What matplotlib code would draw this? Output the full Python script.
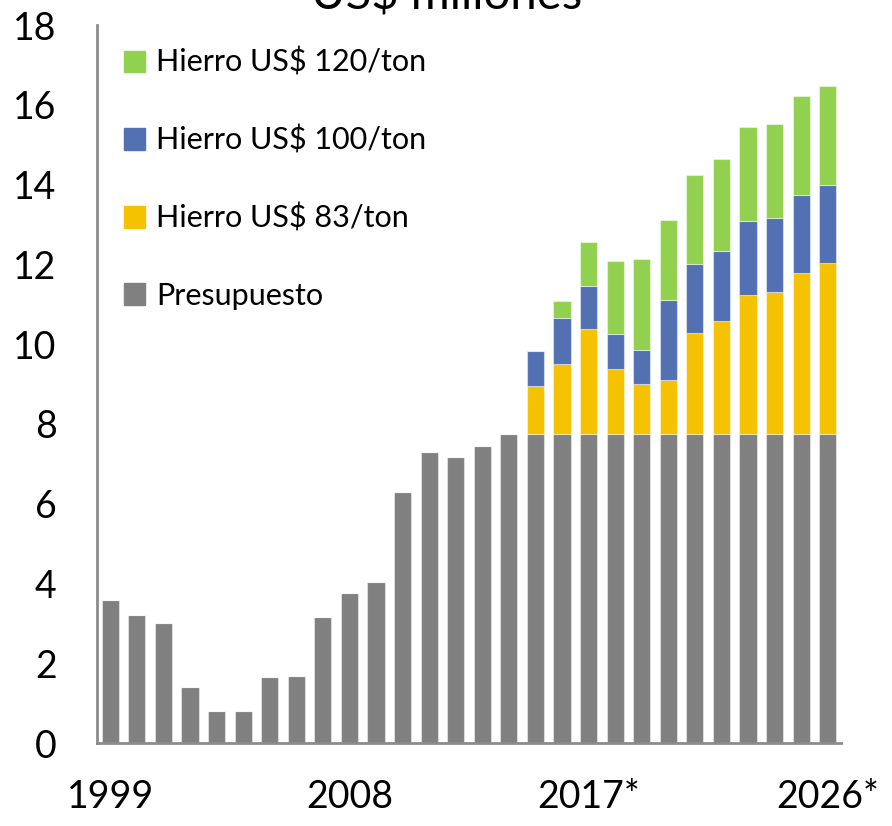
import matplotlib
matplotlib.use("Agg")
import matplotlib.pyplot as plt
from matplotlib.patches import Patch
import numpy as np

years = list(range(1999, 2027))
tick_years = [1999, 2008, 2017, 2026]
tick_labels = ["1999", "2008", "2017*", "2026*"]

presupuesto = [3.58, 3.20, 3.00, 1.40, 0.79, 0.81, 1.65, 1.67, 3.15, 3.77,
               4.03, 6.29, 7.29, 7.16, 7.44, 7.74, 7.74, 7.74, 7.74, 7.74,
               7.74, 7.74, 7.74, 7.74, 7.74, 7.74, 7.74, 7.74]
hierro_83 = [0] * 16 + [1.22, 1.76, 2.65, 1.64, 1.25, 1.35, 2.54, 2.84,
                        3.50, 3.56, 4.04, 4.30]
hierro_100 = [0] * 16 + [0.86, 1.16, 1.07, 0.87, 0.87, 2.02, 1.73, 1.76,
                         1.85, 1.85, 1.95, 1.96]
hierro_120 = [0] * 16 + [0.00, 0.42, 1.10, 1.84, 2.27, 1.99, 2.22, 2.29,
                         2.36, 2.36, 2.49, 2.48]

labels = ["Presupuesto", "Hierro US$ 83/ton", "Hierro US$ 100/ton", "Hierro US$ 120/ton"]
colors = ["#808080", "#F4C200", "#5270B2", "#92D050"]

plt.rcParams['font.family'] = ['Lato', 'DejaVu Sans']

fig = plt.figure(figsize=(8.92, 8.26), dpi=100)
ax = fig.add_axes([97/892, 83/826, (841-97)/892, (743-25)/826])

x = np.arange(len(years))
bottom = np.zeros(len(years))
series = [presupuesto, hierro_83, hierro_100, hierro_120]
for vals, lab, col in zip(series, labels, colors):
    v = np.array(vals, dtype=float)
    ax.bar(x, v, bottom=bottom, width=0.64, color=col, label=lab,
           edgecolor=(1, 1, 1, 0.45), linewidth=0.8)
    bottom += v

ax.set_xlim(-0.5, len(years) - 0.5)
ax.set_ylim(0, 18)
ax.set_yticks(np.arange(0, 19, 2))
ax.set_xticks([years.index(y) for y in tick_years])
ax.set_xticklabels(tick_labels)
ax.tick_params(axis='both', length=0, labelsize=27)
ax.tick_params(axis='y', pad=29)
ax.tick_params(axis='x', pad=26)
for s in ['top', 'right']:
    ax.spines[s].set_visible(False)
for s in ['left', 'bottom']:
    ax.spines[s].set_color('#8C8C8C')
    ax.spines[s].set_linewidth(2)

handles = [Patch(color=c) for c in colors[::-1]]
leg = ax.legend(handles, labels[::-1], loc='upper left',
                bbox_to_anchor=(0.02, 0.985), frameon=False,
                fontsize=22, handlelength=0.7, handleheight=0.7,
                handletextpad=0.35, labelspacing=1.6, borderaxespad=0)

fig.text(0.501, 1 - 9.5/826, "US$ millones", ha='center', va='baseline', fontsize=34)

fig.savefig("out.png", dpi=100, facecolor='white')
